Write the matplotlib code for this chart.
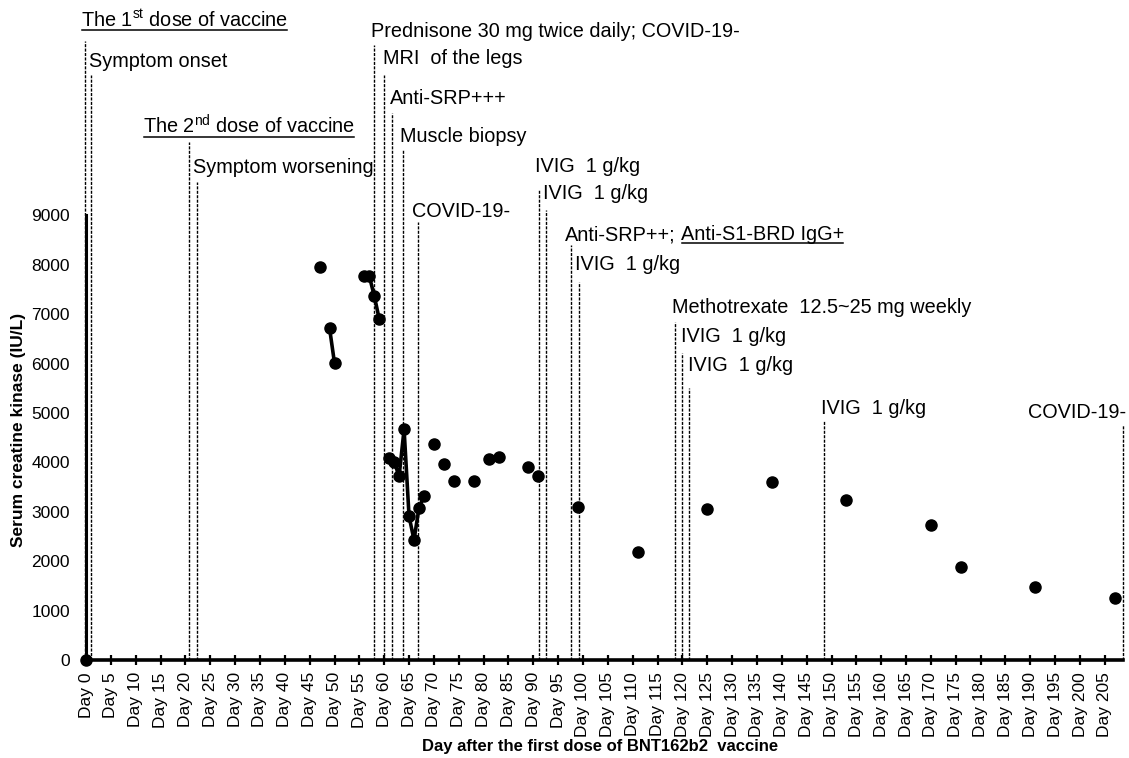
import matplotlib
matplotlib.use("Agg")
import matplotlib.pyplot as plt
from matplotlib.lines import Line2D
from matplotlib.transforms import offset_copy, IdentityTransform

plt.rcParams['font.family'] = ['Liberation Sans', 'DejaVu Sans']
plt.rcParams['mathtext.fontset'] = 'custom'
plt.rcParams['mathtext.rm'] = 'Liberation Sans'
plt.rcParams['mathtext.it'] = 'Liberation Sans:italic'
plt.rcParams['mathtext.bf'] = 'Liberation Sans:bold'

# serum creatine kinase, day after the 1st dose
ck_days = [0, 47, 49, 50, 56, 57, 58, 59, 61, 62, 63, 64, 65, 66, 67, 68, 70, 72, 74, 78,
           81, 83, 89, 91, 99, 111, 125, 138, 153, 170, 176, 191, 207]
ck_values = [0, 7950, 6720, 6010, 7770, 7770, 7370, 6900, 4090, 4010, 3720, 4670, 2910, 2430,
             3080, 3320, 4370, 3970, 3620, 3620, 4070, 4110, 3910, 3720, 3100, 2190, 3060,
             3600, 3240, 2730, 1880, 1480, 1260]
# consecutive daily measurements joined by a line (first day, last day)
ck_runs = [(49, 50), (56, 59), (61, 68)]

# clinical events
event_days = [-0.3, 1.0, 20.7, 22.4, 58.0, 60.0, 61.5, 63.8, 66.9, 91.1, 92.6, 97.6, 99.1,
              118.5, 120.0, 121.4, 148.4, 208.6]
event_labels = [r"The 1$^{\mathrm{st}}$ dose of vaccine", "Symptom onset",
                r"The 2$^{\mathrm{nd}}$ dose of vaccine", "Symptom worsening",
                "Prednisone 30 mg twice daily; COVID-19-", "MRI  of the legs", "Anti-SRP+++",
                "Muscle biopsy", "COVID-19-", "IVIG  1 g/kg", "IVIG  1 g/kg", "Anti-SRP++;",
                "IVIG  1 g/kg", "Methotrexate  12.5~25 mg weekly", "IVIG  1 g/kg",
                "IVIG  1 g/kg", "IVIG  1 g/kg", "COVID-19-"]
extra_label = "Anti-S1-BRD IgG+"   # follows "Anti-SRP++;", underlined

tick_days = list(range(0, 206, 5))
tick_labels = [f"Day {d}" for d in tick_days]
y_ticks = list(range(0, 9001, 1000))

# layout of the event annotations
line_tops = [12530, 11840, 10490, 9680, 12450, 11840, 11070, 10340, 8870, 9510, 9110, 8400,
             7650, 6840, 6220, 5510, 4860, 4760]
label_base = [12810, 12000, 10650, 9860, 12610, 12060, 11250, 10480, 8970, 9880, 9330, 8500,
              7890, 7020, 6440, 5850, 4980, 4900]
label_dx = [-3.5, -2, -46, -4, -3, -1, -2, -3, -6, -4, -3, -6, -4, -3, -1, -1, -3, 3]
underlined = [0, 2]

W, H = 1129, 758
fig = plt.figure(figsize=(W / 100, H / 100), dpi=100)
ax = fig.add_axes([86 / W, 1 - 660 / H, (1123 - 86) / W, 660 / H])
ax.set_xlim(0, (1123 - 86) / 4.97)
ax.set_ylim(0, 660 * 20.24)

for s in ['top', 'right']:
    ax.spines[s].set_visible(False)
ax.spines['left'].set_bounds(0, 9000)
ax.spines['left'].set_linewidth(2.2)
ax.spines['bottom'].set_linewidth(2.6)

ax.set_xticks(tick_days)
ax.set_xticklabels(tick_labels, rotation=90, fontsize=12.5)
ax.tick_params(axis='x', direction='inout', length=7.5, width=1.6, pad=5)
ax.set_yticks(y_ticks)
ax.set_yticklabels([str(v) for v in y_ticks], fontsize=12.5)
ax.tick_params(axis='y', length=0, pad=11.5)

fig.text(600 / W, 1 - 747 / H, "Day after the first dose of BNT162b2  vaccine",
         fontsize=12, fontweight='bold', ha='center', va='center')
fig.text(19 / W, 1 - 430 / H, "Serum creatine kinase (IU/L)",
         fontsize=12.5, fontweight='bold', ha='center', va='center', rotation=90)

# event lines and labels
texts = []
for i, d in enumerate(event_days):
    ax.vlines(d, 0, line_tops[i], colors='black', linewidth=1.0,
              linestyles=(0, (2.2, 1.0)), clip_on=False, zorder=2)
    ha = 'right' if i == len(event_days) - 1 else 'left'
    tr = offset_copy(ax.transData, fig=fig, x=label_dx[i], y=0, units='dots')
    t = ax.text(d, label_base[i], event_labels[i], transform=tr, fontsize=14.3,
                ha=ha, va='baseline', clip_on=False)
    texts.append(t)

srp = texts[event_labels.index("Anti-SRP++;")]
t_extra = ax.annotate(extra_label, xy=(1, 0), xycoords=srp, xytext=(5.5, 0),
                      textcoords='offset pixels', fontsize=14.3, ha='left', va='bottom')

# CK series
for first, last in ck_runs:
    xs = [d for d in ck_days if first <= d <= last]
    ys = [v for d, v in zip(ck_days, ck_values) if first <= d <= last]
    ax.plot(xs, ys, color='black', linewidth=2.6, zorder=3)
ax.plot(ck_days, ck_values, 'o', color='black', markersize=8, clip_on=False, zorder=4)

# underline texts
fig.canvas.draw()
renderer = fig.canvas.get_renderer()
for t, base in [(texts[i], label_base[i]) for i in underlined] + \
        [(t_extra, label_base[event_labels.index("Anti-SRP++;")])]:
    bb = t.get_window_extent(renderer)
    yb = ax.transData.transform((0, base))[1] - 3
    fig.add_artist(Line2D([bb.x0 + 1, bb.x1 - 1], [yb, yb], transform=IdentityTransform(),
                          color='black', linewidth=1.1))

fig.savefig("out.png", dpi=100)
